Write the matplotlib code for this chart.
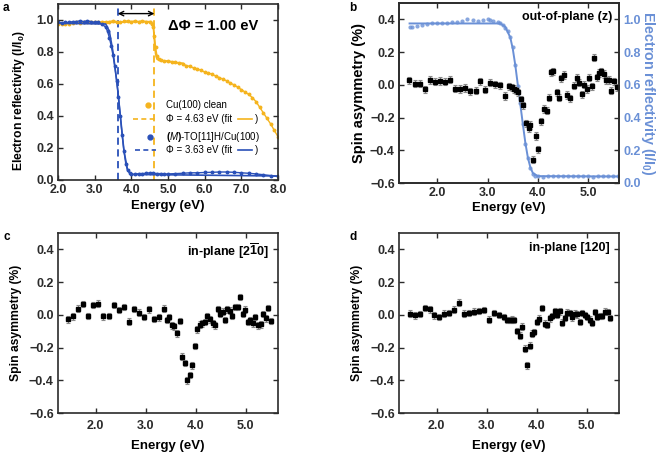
import matplotlib
matplotlib.use("Agg")
import matplotlib.pyplot as plt
import numpy as np

plt.rcParams['font.family'] = ['Liberation Sans', 'DejaVu Sans']
plt.rcParams['font.weight'] = 'bold'
plt.rcParams['mathtext.fontset'] = 'custom'
plt.rcParams['mathtext.rm'] = 'Liberation Sans:bold'
plt.rcParams['mathtext.bf'] = 'Liberation Sans:bold'
plt.rcParams['mathtext.it'] = 'Liberation Sans:style=italic:weight=normal'

# ---------------- Panel a data ----------------
cu_x = [2.0, 2.1, 2.2, 2.3, 2.4, 2.5, 2.6, 2.7, 2.8, 2.9, 3.0, 3.1, 3.2, 3.3, 3.4, 3.5,
        3.6, 3.7, 3.8, 3.9, 4.0, 4.1, 4.2, 4.3, 4.4, 4.5, 4.55, 4.6, 4.63, 4.66, 4.7,
        4.75, 4.8, 4.9, 5.0, 5.1, 5.2, 5.3, 5.4, 5.5, 5.6, 5.7, 5.8, 5.9, 6.0, 6.1,
        6.2, 6.3, 6.4, 6.5, 6.6, 6.7, 6.8, 6.9, 7.0, 7.1, 7.2, 7.3, 7.4, 7.5, 7.6,
        7.7, 7.8, 7.9, 8.0]
cu_y = [0.975, 0.975, 0.978, 0.976, 0.98, 0.985, 0.982, 0.988, 0.99, 0.99, 0.985, 0.985,
        0.99, 0.988, 0.99, 0.995, 0.99, 0.985, 0.992, 0.995, 0.99, 0.995, 0.99, 0.995,
        0.99, 0.985, 0.975, 0.955, 0.90, 0.83, 0.775, 0.755, 0.75, 0.745, 0.745, 0.74,
        0.735, 0.73, 0.725, 0.715, 0.71, 0.70, 0.695, 0.685, 0.675, 0.67, 0.66, 0.65,
        0.64, 0.63, 0.62, 0.605, 0.595, 0.58, 0.565, 0.55, 0.535, 0.515, 0.49, 0.455,
        0.42, 0.385, 0.35, 0.31, 0.27]
cu_fit_x = [2.0, 4.55, 4.6, 4.63, 4.66, 4.7, 4.8, 5.4]
cu_fit_y = [0.98, 0.99, 0.96, 0.87, 0.79, 0.755, 0.745, 0.73]

to_x = [2.0, 2.1, 2.2, 2.3, 2.4, 2.5, 2.6, 2.7, 2.8, 2.9, 3.0, 3.1, 3.2, 3.3, 3.35, 3.4,
        3.45, 3.5, 3.55, 3.6, 3.65, 3.7, 3.75, 3.8, 3.85, 3.9, 3.95, 4.0, 4.1, 4.2, 4.3,
        4.4, 4.5, 4.6, 4.7, 4.8, 4.9, 5.0, 5.2, 5.4, 5.6, 5.8, 6.0, 6.2, 6.4, 6.6, 6.8,
        7.0, 7.2, 7.4, 7.6, 7.8, 8.0]
to_y = [0.985, 0.98, 0.985, 0.985, 0.99, 0.99, 0.995, 0.99, 0.995, 0.99, 0.985, 0.985,
        0.975, 0.955, 0.93, 0.89, 0.84, 0.78, 0.71, 0.62, 0.52, 0.40, 0.28, 0.18, 0.10,
        0.06, 0.045, 0.035, 0.035, 0.04, 0.04, 0.042, 0.045, 0.043, 0.04, 0.04, 0.038,
        0.038, 0.04, 0.042, 0.045, 0.045, 0.047, 0.048, 0.05, 0.05, 0.048, 0.045, 0.042,
        0.038, 0.033, 0.028, 0.022]
to_fit_x = [2.0, 3.3, 3.4, 3.5, 3.55, 3.6, 3.63, 3.7, 3.8, 3.9, 4.0, 8.0]
to_fit_y = [0.98, 0.975, 0.93, 0.80, 0.71, 0.62, 0.56, 0.40, 0.18, 0.06, 0.035, 0.025]

phi_cu = 4.63
phi_to = 3.63

# ---------------- Panel b data ----------------
b_x = [1.44, 1.56, 1.66, 1.76, 1.86, 1.96, 2.06, 2.16, 2.26, 2.36, 2.46, 2.56, 2.66, 2.76,
       2.85, 2.95, 3.05, 3.15, 3.25, 3.35, 3.42, 3.48, 3.52, 3.56, 3.61, 3.66, 3.71, 3.76,
       3.82, 3.85, 3.91, 3.97, 4.01, 4.07, 4.12, 4.17, 4.21, 4.26, 4.30, 4.37, 4.41, 4.46,
       4.52, 4.57, 4.64, 4.71, 4.77, 4.82, 4.87, 4.92, 4.97, 5.02, 5.07, 5.12, 5.17, 5.22,
       5.26, 5.31, 5.36, 5.41, 5.46, 5.52, 5.58]
b_y = [0.027, 0.006, 0.006, -0.027, 0.029, 0.019, 0.023, 0.019, 0.031, -0.023, -0.025,
       -0.019, -0.039, -0.037, 0.021, -0.031, 0.014, 0.004, -0.002, -0.068, -0.008, -0.016,
       -0.025, -0.033, -0.045, -0.089, -0.126, -0.235, -0.264, -0.245, -0.458, -0.313,
       -0.394, -0.223, -0.148, -0.157, -0.078, 0.076, 0.082, -0.045, -0.078, 0.041, 0.060,
       -0.062, -0.082, -0.006, 0.043, 0.012, -0.058, 0.0, -0.025, 0.043, -0.010, 0.165,
       0.045, 0.072, 0.082, 0.066, 0.027, 0.029, -0.035, 0.021, -0.014]

refl_x = [1.45, 1.5, 1.6, 1.7, 1.8, 1.9, 2.0, 2.1, 2.2, 2.3, 2.4, 2.5, 2.6, 2.7, 2.8, 2.9,
          3.0, 3.05, 3.1, 3.2, 3.25, 3.3, 3.35, 3.4, 3.45, 3.5, 3.55, 3.6, 3.65, 3.7, 3.75,
          3.8, 3.85, 3.9, 3.95, 4.0, 4.1, 4.2, 4.3, 4.4, 4.5, 4.6, 4.7, 4.8, 4.9, 5.0, 5.1,
          5.2, 5.3, 5.4, 5.5, 5.6]
refl_y = [0.955, 0.955, 0.96, 0.965, 0.97, 0.975, 0.978, 0.98, 0.98, 0.985, 0.985, 0.99,
          1.0, 0.995, 0.99, 0.995, 1.0, 0.995, 0.99, 0.985, 0.975, 0.965, 0.95, 0.93, 0.89,
          0.83, 0.72, 0.59, 0.49, 0.36, 0.24, 0.15, 0.09, 0.055, 0.045, 0.04, 0.038, 0.04,
          0.04, 0.041, 0.042, 0.041, 0.04, 0.04, 0.04, 0.04, 0.039, 0.04, 0.04, 0.04, 0.04,
          0.04]
refl_fit_x = [1.45, 3.25, 3.35, 3.45, 3.5, 3.55, 3.6, 3.65, 3.7, 3.75, 3.8, 3.85, 3.9, 4.0, 5.6]
refl_fit_y = [0.975, 0.975, 0.955, 0.89, 0.82, 0.72, 0.60, 0.48, 0.36, 0.245, 0.155,
              0.095, 0.06, 0.042, 0.04]

# ---------------- Panel c data ----------------
c_x = [1.45, 1.55, 1.65, 1.75, 1.85, 1.95, 2.05, 2.15, 2.26, 2.36, 2.46, 2.56, 2.66, 2.76,
       2.86, 2.96, 3.06, 3.16, 3.26, 3.36, 3.42, 3.46, 3.52, 3.57, 3.62, 3.68, 3.72, 3.78,
       3.83, 3.88, 3.93, 3.98, 4.03, 4.09, 4.13, 4.18, 4.23, 4.29, 4.34, 4.38, 4.44, 4.49,
       4.54, 4.59, 4.64, 4.69, 4.73, 4.79, 4.84, 4.89, 4.95, 4.99, 5.05, 5.09, 5.14, 5.19,
       5.24, 5.30, 5.35, 5.40, 5.45, 5.50]
c_y = [-0.027, -0.010, 0.037, 0.066, -0.006, 0.060, 0.068, -0.010, -0.006, 0.060, 0.029,
       0.049, -0.041, 0.035, 0.014, -0.014, 0.033, -0.025, -0.016, 0.037, -0.031, -0.012,
       -0.064, -0.070, -0.113, -0.039, -0.256, -0.295, -0.400, -0.367, -0.309, -0.190,
       -0.089, -0.060, -0.052, -0.043, -0.006, -0.027, -0.052, -0.064, 0.035, 0.008, 0.019,
       -0.031, 0.033, 0.025, -0.006, 0.049, 0.049, 0.109, 0.006, 0.031, -0.043, -0.031,
       -0.052, -0.012, -0.064, -0.058, 0.006, -0.021, 0.043, -0.037]

# ---------------- Panel d data ----------------
d_x = [1.46, 1.56, 1.66, 1.76, 1.86, 1.95, 2.05, 2.15, 2.25, 2.35, 2.45, 2.55, 2.64, 2.74,
       2.84, 2.94, 3.04, 3.15, 3.25, 3.35, 3.41, 3.46, 3.51, 3.55, 3.61, 3.66, 3.71, 3.76,
       3.81, 3.86, 3.91, 3.95, 4.01, 4.05, 4.11, 4.16, 4.20, 4.26, 4.30, 4.36, 4.41, 4.46,
       4.51, 4.56, 4.61, 4.66, 4.71, 4.76, 4.81, 4.86, 4.91, 4.96, 5.01, 5.06, 5.11, 5.16,
       5.21, 5.26, 5.31, 5.36, 5.42, 5.47]
d_y = [0.008, -0.004, 0.004, 0.043, 0.033, -0.004, -0.012, 0.008, 0.012, 0.031, 0.074,
       0.008, 0.012, 0.019, 0.023, 0.029, -0.029, 0.012, -0.002, -0.012, -0.031, -0.033,
       -0.029, -0.031, -0.099, -0.128, -0.072, -0.206, -0.309, -0.188, -0.115, -0.105,
       -0.043, -0.023, 0.041, -0.054, -0.062, -0.021, -0.008, 0.023, 0.0, 0.021, -0.047,
       -0.019, 0.014, 0.010, -0.016, 0.008, 0.002, -0.043, 0.012, 0.0, -0.012, -0.029,
       -0.049, 0.016, -0.012, -0.006, -0.006, 0.019, 0.016, -0.019]

err_b = 0.022
err_cd = 0.020

YELLOW = '#F5B41E'
BLUE = '#2A50B8'
LBLUE = '#6A90D6'
FRAME = '#2b2b2b'

fig = plt.figure(figsize=(6.61, 4.54), dpi=100)

W, H = 661.0, 454.0
def box(l, t, r, b):
    return [l / W, 1 - b / H, (r - l) / W, (b - t) / H]

TICK_FS = 9
XLAB_FS = 9.5

def style(ax, right=True, xpad=3):
    for s in ax.spines.values():
        s.set_linewidth(1.2)
        s.set_color(FRAME)
    ax.tick_params(direction='in', length=3.5, width=1.0, top=True, right=right,
                   labelsize=TICK_FS, colors=FRAME, pad=3)
    ax.tick_params(axis='x', pad=xpad)
    for lab in ax.get_xticklabels() + ax.get_yticklabels():
        lab.set_fontweight('bold')

# ---------------- Panel a ----------------
axa = fig.add_axes(box(58, 4, 278, 180))
axa.axvline(phi_to, color=BLUE, ls='--', lw=1.3, dashes=(4, 2.5))
axa.axvline(phi_cu, color=YELLOW, ls='--', lw=1.3, dashes=(4, 2.5))
axa.plot(cu_x, cu_y, 'o-', color=YELLOW, ms=1.8, lw=1.0)
axa.plot(cu_fit_x, cu_fit_y, '-', color=YELLOW, lw=1.2)
axa.plot(to_x, to_y, 'o-', color=BLUE, ms=1.8, lw=1.0)
axa.plot(to_fit_x, to_fit_y, '-', color=BLUE, lw=1.2)
axa.annotate('', xy=(phi_to, 1.04), xytext=(phi_cu, 1.04),
             arrowprops=dict(arrowstyle='<->', color='black', lw=1.0, shrinkA=0, shrinkB=0,
                             mutation_scale=8))
axa.text(6.23, 0.965, r'ΔΦ = 1.00 eV', fontsize=10.5, fontweight='bold', ha='center', va='center')
axa.set_xlim(2.0, 8.0)
axa.set_ylim(0.0, 1.1)
axa.set_xticks([2, 3, 4, 5, 6, 7, 8])
axa.set_xticklabels(['2.0', '3.0', '4.0', '5.0', '6.0', '7.0', '8.0'])
axa.set_yticks([0.0, 0.2, 0.4, 0.6, 0.8, 1.0])
axa.set_yticklabels(['0.0', '0.2', '0.4', '0.6', '0.8', '1.0'])
axa.set_xlabel('Energy (eV)', fontsize=XLAB_FS, fontweight='bold', labelpad=3)
axa.set_ylabel(r'Electron reflectivity (I/I$_0$)', fontsize=8.7, fontweight='bold')
style(axa)
axa.yaxis.set_label_coords(-0.14, 0.45)

# custom legend
LFS = 7
axa.plot([4.45], [0.467], 'o', color=YELLOW, ms=3.5)
axa.text(4.95, 0.467, 'Cu(100) clean', fontsize=LFS, fontweight='normal', va='center')
axa.plot([4.05, 4.68], [0.383, 0.383], '--', color=YELLOW, lw=1.2, dashes=(3, 2))
axa.text(4.95, 0.383, 'Φ = 4.63 eV (fit', fontsize=LFS, fontweight='normal', va='center')
axa.plot([6.92, 7.3], [0.383, 0.383], '-', color=YELLOW, lw=1.2)
axa.text(7.36, 0.383, ')', fontsize=LFS, fontweight='normal', va='center')
axa.plot([4.5], [0.267], 'o', color=BLUE, ms=3.5)
axa.text(4.95, 0.267, r'$\it{(M)}$-TO[11]H/Cu(100)', fontsize=LFS, fontweight='normal', va='center')
axa.plot([4.1, 4.68], [0.19, 0.19], '--', color=BLUE, lw=1.2, dashes=(3, 2))
axa.text(4.95, 0.19, 'Φ = 3.63 eV (fit', fontsize=LFS, fontweight='normal', va='center')
axa.plot([6.92, 7.3], [0.19, 0.19], '-', color=BLUE, lw=1.2)
axa.text(7.36, 0.19, ')', fontsize=LFS, fontweight='normal', va='center')

# ---------------- Panel b ----------------
axb = fig.add_axes(box(399, 3, 619, 183))
axb2 = axb.twinx()
axb2.plot(refl_x, refl_y, 'o', color=LBLUE, ms=3.0, alpha=0.8, mec='none')
axb2.plot(refl_fit_x, refl_fit_y, '-', color=LBLUE, lw=1.4)
axb2.set_ylim(0.0, 1.1)
axb2.set_yticks([0.0, 0.2, 0.4, 0.6, 0.8, 1.0])
axb2.set_yticklabels(['0.0', '0.2', '0.4', '0.6', '0.8', '1.0'])
axb2.tick_params(direction='in', length=3.5, width=1.0, labelsize=TICK_FS,
                 colors=FRAME, labelcolor=LBLUE, pad=3)
for lab in axb2.get_yticklabels():
    lab.set_fontweight('bold')
axb2.set_ylabel(r'Electron reflectivity (I/I$_0$)', fontsize=10.3, fontweight='bold',
                color=LBLUE, rotation=270, labelpad=12)
axb.set_zorder(axb2.get_zorder() + 1)
axb.patch.set_visible(False)
axb.errorbar(b_x, b_y, yerr=err_b, fmt='s', color='black', ms=2.6, ecolor='#8a8a8a',
             elinewidth=0.8, capsize=1.5, capthick=0.8)
axb.set_xlim(1.24, 5.61)
axb.set_ylim(-0.6, 0.5)
axb.set_xticks([2, 3, 4, 5])
axb.set_xticklabels(['2.0', '3.0', '4.0', '5.0'])
axb.set_yticks([-0.6, -0.4, -0.2, 0.0, 0.2, 0.4])
axb.set_yticklabels(['\u22120.6', '\u22120.4', '\u22120.2', '0.0', '0.2', '0.4'])
axb.set_xlabel('Energy (eV)', fontsize=XLAB_FS, fontweight='bold', labelpad=2)
axb.set_ylabel('Spin asymmetry (%)', fontsize=10.5, fontweight='bold', labelpad=3)
style(axb, right=False)
for s in axb2.spines.values():
    s.set_linewidth(1.2)
    s.set_color(FRAME)
axb.text(0.97, 0.955, 'out-of-plane (z)', transform=axb.transAxes, ha='right', va='top',
         fontsize=9, fontweight='bold')

# ---------------- Panels c, d ----------------
def spin_panel(rect, xs, ys, title):
    ax = fig.add_axes(rect)
    ax.errorbar(xs, ys, yerr=err_cd, fmt='s', color='black', ms=2.6, ecolor='#8a8a8a',
                elinewidth=0.8, capsize=1.5, capthick=0.8)
    ax.set_xlim(1.25, 5.65)
    ax.set_ylim(-0.6, 0.5)
    ax.set_xticks([2, 3, 4, 5])
    ax.set_xticklabels(['2.0', '3.0', '4.0', '5.0'])
    ax.set_yticks([-0.6, -0.4, -0.2, 0.0, 0.2, 0.4])
    ax.set_yticklabels(['\u22120.6', '\u22120.4', '\u22120.2', '0.0', '0.2', '0.4'])
    ax.set_xlabel('Energy (eV)', fontsize=XLAB_FS, fontweight='bold', labelpad=6)
    ax.set_ylabel('Spin asymmetry (%)', fontsize=8.7, fontweight='bold', labelpad=5)
    style(ax, xpad=5)
    ax.text(0.96, 0.95, title, transform=ax.transAxes, ha='right', va='top',
            fontsize=9, fontweight='bold')
    return ax

axc = spin_panel(box(58, 233, 278, 413), c_x, c_y, r'in-plane [2$\overline{1}$0]')
axd = spin_panel(box(399, 233, 619, 413), d_x, d_y, 'in-plane [120]')

# panel letters
fig.text(3 / W, 1 - 8 / H, 'a', fontsize=8.5, fontweight='bold', va='center', ha='left')
fig.text(349 / W, 1 - 8 / H, 'b', fontsize=8.5, fontweight='bold', va='center', ha='left')
fig.text(3 / W, 1 - 237 / H, 'c', fontsize=8.5, fontweight='bold', va='center', ha='left')
fig.text(349 / W, 1 - 237 / H, 'd', fontsize=8.5, fontweight='bold', va='center', ha='left')

fig.savefig('out.png', dpi=100)
